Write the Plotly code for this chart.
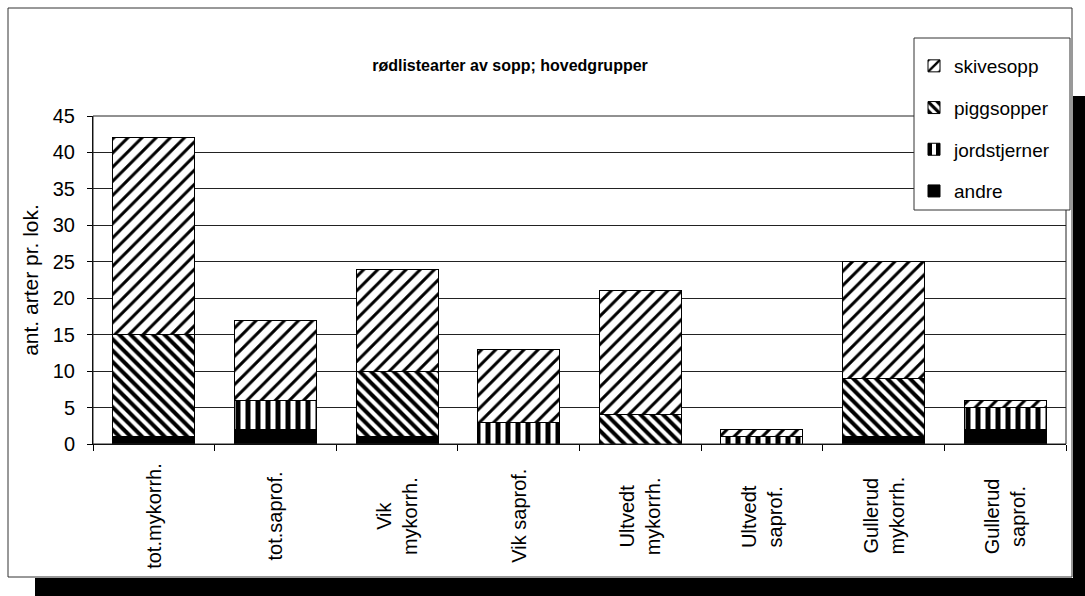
import plotly.graph_objects as go

categories = ["tot.mykorrh.", "tot.saprof.", "Vik mykorrh.", "Vik saprof.",
              "Ultvedt mykorrh.", "Ultvedt saprof.", "Gullerud mykorrh.", "Gullerud saprof."]
tick_labels = ["tot.mykorrh.", "tot.saprof.", "Vik<br>mykorrh.", "Vik saprof.",
               "Ultvedt<br>mykorrh.", "Ultvedt<br>saprof.", "Gullerud<br>mykorrh.", "Gullerud<br>saprof."]
andre = [1, 2, 1, 0, 0, 0, 1, 2]
jordstjerner = [0, 4, 0, 3, 0, 1, 0, 3]
piggsopper = [14, 0, 9, 0, 4, 0, 8, 0]
skivesopp = [27, 11, 14, 10, 17, 1, 16, 1]
y_ticks = [0, 5, 10, 15, 20, 25, 30, 35, 40, 45]

FONT = "Liberation Sans, Arial, sans-serif"
W, H = 1085, 596
PL, PR, PT, PB = 93, 1066, 116, 444  # plot area in pixels


def px(x):
    return (x - PL) / (PR - PL)


def py(y):
    return (PB - y) / (PB - PT)


def pat(shape, solidity, size=10):
    return dict(shape=shape, fgcolor="black", bgcolor="white", fgopacity=1, size=size, solidity=solidity)


fig = go.Figure()
series = [
    ("andre", andre, dict(color="black"), 4),
    ("jordstjerner", jordstjerner, dict(color="white", pattern=pat("|", 0.5)), 3),
    ("piggsopper", piggsopper, dict(color="white", pattern=pat("\\", 0.5, 8)), 2),
    ("skivesopp", skivesopp, dict(color="white", pattern=pat("/", 0.3)), 1),
]
for name, vals, marker, rank in series:
    marker = dict(marker)
    marker["line"] = dict(color="black", width=1)
    fig.add_trace(go.Bar(x=categories, y=vals, name=name, legendgroup=name, legendrank=rank, marker=marker))

annotations = []
for cat, lab in zip(categories, tick_labels):
    annotations.append(dict(x=cat, xref="x", y=py(516), yref="paper", text=lab, textangle=-90,
                            showarrow=False, xanchor="center", yanchor="middle",
                            font=dict(family=FONT, size=20, color="black")))

shapes = [
    dict(type="rect", xref="paper", yref="paper", x0=px(8), x1=px(1072), y0=py(577), y1=py(8),
         line=dict(color="#333", width=1), layer="below"),
    dict(type="rect", xref="paper", yref="paper", x0=px(35), x1=px(1085), y0=py(596), y1=py(578),
         line=dict(width=0), fillcolor="black"),
    dict(type="rect", xref="paper", yref="paper", x0=px(1073), x1=px(1085), y0=py(596), y1=py(96),
         line=dict(width=0), fillcolor="black"),
    dict(type="rect", xref="paper", yref="paper", x0=0, x1=1, y0=0, y1=1,
         line=dict(color="#222", width=1)),
    # legend box
    dict(type="rect", xref="paper", yref="paper", x0=px(914), x1=px(1070), y0=py(210), y1=py(38),
         line=dict(color="#333", width=1), fillcolor="white", layer="above"),
]

fig.update_layout(
    width=W, height=H,
    margin=dict(l=PL, r=W - PR, t=PT, b=H - PB),
    paper_bgcolor="white", plot_bgcolor="white",
    barmode="stack", bargap=0.325,
    font=dict(family=FONT, color="black"),
    title=dict(text="<b>rødlistearter av sopp; hovedgrupper</b>", x=px(510), xref="paper", xanchor="center",
               y=1 - 65 / H, yref="container", yanchor="middle", font=dict(family=FONT, size=16, color="black")),
    legend=dict(x=px(914), y=py(47), xanchor="left", yanchor="top", traceorder="grouped",
                tracegroupgap=14, borderwidth=0, bgcolor="rgba(0,0,0,0)",
                font=dict(family=FONT, size=19, color="black")),
    xaxis=dict(showticklabels=False, ticks="outside", tickson="boundaries", ticklen=6, tickcolor="black",
               showline=True, linecolor="black", linewidth=1, showgrid=False),
    yaxis=dict(range=[0, 45], tickvals=y_ticks, ticks="outside", ticklen=5, tickcolor="black",
               ticklabelstandoff=8,
               showline=True, linecolor="black", linewidth=1, showgrid=True, gridcolor="#222", gridwidth=1,
               zeroline=False, tickfont=dict(family=FONT, size=20, color="black"),
               title=dict(text="ant. arter pr. lok.", standoff=8, font=dict(family=FONT, size=21, color="black"))),
    annotations=annotations,
    shapes=shapes,
)

fig.write_html("out.html", config={"displayModeBar": False},
               post_script="document.body.style.margin='0';document.body.style.overflow='hidden';")
